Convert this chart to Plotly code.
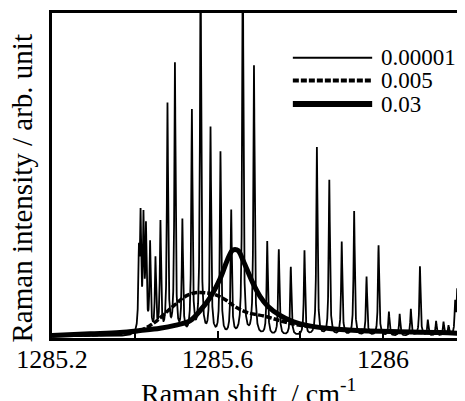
import numpy as np
import plotly.graph_objects as go

# ---- data ----
# Stick spectrum for the 0.00001 case: line centres (cm^-1) and peak intensities (arb.)
line_centers = [1285.410, 1285.414, 1285.421, 1285.427, 1285.437, 1285.450, 1285.462,
                1285.479, 1285.497, 1285.515, 1285.538, 1285.559, 1285.583, 1285.607,
                1285.633, 1285.661, 1285.688, 1285.720, 1285.748, 1285.777, 1285.810,
                1285.840, 1285.870, 1285.900, 1285.930, 1285.960, 1285.989, 1286.014,
                1286.040, 1286.067, 1286.089, 1286.108, 1286.128, 1286.146, 1286.158,
                1286.174, 1286.179]
line_heights = [0.222, 0.335, 0.338, 0.311, 0.274, 0.228, 0.342,
                0.708, 0.834, 0.348, 0.689, 1.200, 0.637, 0.563,
                0.382, 1.200, 0.831, 0.289, 0.265, 0.212, 0.262,
                0.582, 0.480, 0.289, 0.385, 0.182, 0.280, 0.074,
                0.068, 0.083, 0.215, 0.049, 0.046, 0.043, 0.031,
                0.098, 0.138]
line_hwhm = 0.0017  # cm^-1

# 0.005 curve
x_005 = [1285.200, 1285.364, 1285.413, 1285.437, 1285.454, 1285.478, 1285.497, 1285.521,
         1285.546, 1285.570, 1285.594, 1285.618, 1285.642, 1285.671, 1285.715, 1285.758,
         1285.799, 1285.848, 1285.896, 1285.961, 1286.017, 1286.089, 1286.191]
y_005 = [0.003, 0.009, 0.018, 0.034, 0.049, 0.077, 0.098, 0.123,
         0.135, 0.135, 0.129, 0.114, 0.092, 0.074, 0.062, 0.046,
         0.034, 0.028, 0.022, 0.018, 0.015, 0.012, 0.009]

# 0.03 curve
x_003 = [1285.200, 1285.292, 1285.364, 1285.413, 1285.461, 1285.497, 1285.534, 1285.558,
         1285.582, 1285.606, 1285.623, 1285.635, 1285.642, 1285.650, 1285.662, 1285.686,
         1285.703, 1285.720, 1285.751, 1285.782, 1285.816, 1285.865, 1285.937, 1286.017,
         1286.138, 1286.191]
y_003 = [0.003, 0.008, 0.012, 0.018, 0.025, 0.034, 0.049, 0.080,
         0.120, 0.178, 0.234, 0.265, 0.269, 0.265, 0.234, 0.163,
         0.123, 0.095, 0.065, 0.046, 0.034, 0.025, 0.018, 0.015,
         0.012, 0.009]

series_names = ["0.00001", "0.005", "0.03"]
tick_vals = [1285.2, 1285.4, 1285.6, 1285.8, 1286.0]
tick_text = ["1285.2", "", "1285.6", "", "1286"]

# ---- build thin spectrum from the line list ----
xg = np.union1d(np.linspace(1285.2, 1286.2, 8001), np.array(line_centers))
yg = np.zeros_like(xg)
for c, h in zip(line_centers, line_heights):
    yg += h * line_hwhm**2 / ((xg - c) ** 2 + line_hwhm**2)

FONT = "Times New Roman, Liberation Serif, Times, serif"
fig = go.Figure()
fig.add_trace(go.Scatter(x=xg, y=yg, mode="lines", name=series_names[0],
                         line=dict(color="black", width=1.8), showlegend=False))
fig.add_trace(go.Scatter(x=x_005, y=y_005, mode="lines", name=series_names[1],
                         line=dict(color="black", width=3.5, dash="6px,2px", shape="spline"),
                         showlegend=False))
fig.add_trace(go.Scatter(x=x_003, y=y_003, mode="lines", name=series_names[2],
                         line=dict(color="black", width=5, shape="spline"),
                         showlegend=False))

# manual legend (long line samples like the reference)
leg_y = [0.862, 0.792, 0.720]
leg_styles = [dict(width=2, dash="solid"), dict(width=4, dash="6px,2px"), dict(width=6, dash="solid")]
for name, yy, st in zip(series_names, leg_y, leg_styles):
    fig.add_shape(type="line", xref="paper", yref="paper", x0=0.586, x1=0.779, y0=yy, y1=yy,
                  line=dict(color="black", width=st["width"], dash=st["dash"]))
    fig.add_annotation(xref="paper", yref="paper", x=0.795, y=yy, text=name, showarrow=False,
                       xanchor="left", yanchor="middle", font=dict(family=FONT, size=23, color="black"))

# axis titles
fig.add_annotation(xref="paper", yref="paper", x=0.478, y=-0.105, yanchor="top",
                   text="Raman shift  / cm<sup>-1</sup>", showarrow=False,
                   font=dict(family=FONT, size=28, color="black"))
fig.add_annotation(xref="paper", yref="paper", x=-0.0754, y=0.46, xanchor="center",
                   text="Raman intensity / arb. unit", showarrow=False, textangle=-90,
                   font=dict(family=FONT, size=29, color="black"))

# the page adds an 8 px body margin, so the figure is 8 px smaller and margins shifted
fig.update_layout(
    width=457, height=393,
    margin=dict(l=44, r=2, t=5, b=63),
    paper_bgcolor="white", plot_bgcolor="white",
    font=dict(family=FONT, color="black"),
    xaxis=dict(range=[1285.2, 1286.193], showgrid=False, zeroline=False,
               showline=True, linewidth=3, linecolor="black", mirror=True,
               ticks="inside", ticklen=7, tickwidth=2, tickcolor="black",
               tickvals=tick_vals, ticktext=tick_text,
               tickfont=dict(family=FONT, size=26, color="black")),
    yaxis=dict(range=[-0.005, 1.0], showgrid=False, zeroline=False,
               showline=True, linewidth=3, linecolor="black", mirror=False,
               showticklabels=False, ticks=""),
)
try:
    fig.update_xaxes(ticklabelstandoff=-4)
except Exception:
    pass

fig.write_html("out.html")
